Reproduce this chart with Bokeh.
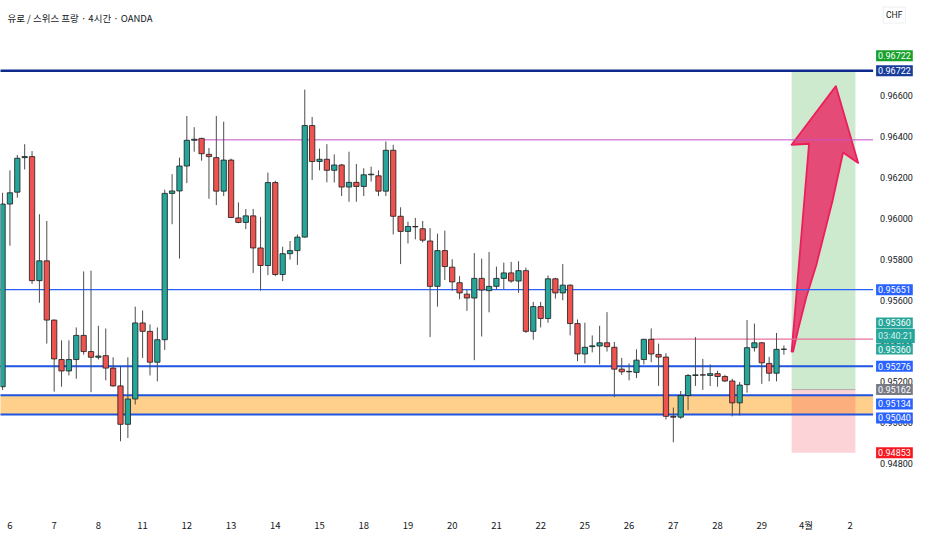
from bokeh.plotting import figure
from bokeh.models import Range1d, FixedTicker, Label, ColumnDataSource
from bokeh.embed import file_html
from bokeh.resources import INLINE
from bokeh.core.properties import value

# ---------------- data ----------------
title_text = "유로 / 스위스 프랑 · 4시간 · OANDA"

opens = [0.95176, 0.96070, 0.96128, 0.96297, 0.96302, 0.95695, 0.95792, 0.95502, 0.95309, 0.95253,
         0.95309, 0.95427, 0.95348, 0.95320, 0.95328, 0.95267, 0.95180, 0.94992, 0.95116, 0.95488,
         0.95447, 0.95296, 0.95406, 0.96122, 0.96134, 0.96256, 0.96382, 0.96391, 0.96313, 0.96297,
         0.96133, 0.96285, 0.96002, 0.95980, 0.96012, 0.95855, 0.95769, 0.96175, 0.95725, 0.95827,
         0.95842, 0.95908, 0.96454, 0.96278, 0.96289, 0.96235, 0.96261, 0.96153, 0.96176, 0.96156,
         0.96213, 0.96208, 0.96133, 0.96333, 0.96010, 0.95936, 0.95960, 0.95949, 0.95889, 0.95667,
         0.95842, 0.95761, 0.95685, 0.95629, 0.95610, 0.95706, 0.95646, 0.95667, 0.95706, 0.95733,
         0.95693, 0.95744, 0.95447, 0.95568, 0.95510, 0.95704, 0.95635, 0.95673, 0.95485, 0.95336,
         0.95372, 0.95375, 0.95391, 0.95369, 0.95262, 0.95249, 0.95246, 0.95309, 0.95408, 0.95334,
         0.95321, 0.95031, 0.95027, 0.95133, 0.95231, 0.95234, 0.95231, 0.95240, 0.95226, 0.95204,
         0.95097, 0.95186, 0.95367, 0.95391, 0.95290, 0.95242, 0.95359]
highs = [0.96125, 0.96235, 0.96310, 0.96363, 0.96329, 0.96020, 0.95987, 0.95505, 0.95403, 0.95403,
         0.95466, 0.95740, 0.95744, 0.95474, 0.95461, 0.95320, 0.95278, 0.95320, 0.95568, 0.95549,
         0.95481, 0.95466, 0.96140, 0.96216, 0.96297, 0.96501, 0.96446, 0.96394, 0.96344, 0.96501,
         0.96473, 0.96292, 0.96078, 0.96046, 0.96046, 0.96007, 0.96224, 0.96184, 0.95861, 0.95889,
         0.95921, 0.96630, 0.96496, 0.96341, 0.96363, 0.96313, 0.96266, 0.96326, 0.96266, 0.96245,
         0.96253, 0.96235, 0.96376, 0.96360, 0.96054, 0.95984, 0.96002, 0.95987, 0.95952, 0.95925,
         0.95940, 0.95800, 0.95717, 0.95651, 0.95830, 0.95803, 0.95835, 0.95764, 0.95783, 0.95787,
         0.95790, 0.95759, 0.95591, 0.95591, 0.95720, 0.95709, 0.95776, 0.95677, 0.95505, 0.95489,
         0.95427, 0.95474, 0.95541, 0.95395, 0.95317, 0.95290, 0.95359, 0.95410, 0.95461, 0.95387,
         0.95340, 0.95074, 0.95155, 0.95238, 0.95419, 0.95312, 0.95285, 0.95254, 0.95234, 0.95215,
         0.95199, 0.95502, 0.95485, 0.95395, 0.95322, 0.95439, 0.95378]
lows = [0.95160, 0.95866, 0.96101, 0.96239, 0.95679, 0.95587, 0.95387, 0.95152, 0.95176, 0.95231,
        0.95215, 0.95333, 0.95149, 0.95309, 0.95207, 0.95176, 0.94909, 0.94925, 0.95089, 0.95317,
        0.95231, 0.95202, 0.95356, 0.95971, 0.95803, 0.96172, 0.96326, 0.96282, 0.96096, 0.96065,
        0.96109, 0.96002, 0.95976, 0.95947, 0.95733, 0.95646, 0.95722, 0.95717, 0.95693, 0.95798,
        0.95772, 0.95905, 0.96187, 0.96235, 0.96176, 0.96175, 0.96109, 0.96081, 0.96081, 0.96109,
        0.96180, 0.96109, 0.96109, 0.95921, 0.95776, 0.95877, 0.95897, 0.95882, 0.95419, 0.95568,
        0.95698, 0.95646, 0.95604, 0.95547, 0.95306, 0.95422, 0.95540, 0.95651, 0.95654, 0.95685,
        0.95635, 0.95439, 0.95406, 0.95466, 0.95489, 0.95607, 0.95599, 0.95427, 0.95301, 0.95290,
        0.95344, 0.95285, 0.95348, 0.95125, 0.95234, 0.95207, 0.95218, 0.95285, 0.95296, 0.95180,
        0.95016, 0.94904, 0.95019, 0.95061, 0.95180, 0.95160, 0.95180, 0.95176, 0.95199, 0.95031,
        0.95035, 0.95147, 0.95348, 0.95190, 0.95202, 0.95202, 0.95333]
closes = [0.96070, 0.96125, 0.96294, 0.96302, 0.95695, 0.95792, 0.95502, 0.95312, 0.95253, 0.95309,
          0.95427, 0.95348, 0.95320, 0.95326, 0.95267, 0.95180, 0.94992, 0.95116, 0.95488, 0.95447,
          0.95296, 0.95406, 0.96122, 0.96134, 0.96256, 0.96382, 0.96387, 0.96316, 0.96302, 0.96133,
          0.96285, 0.96004, 0.95980, 0.96012, 0.95855, 0.95769, 0.96175, 0.95725, 0.95827, 0.95842,
          0.95908, 0.96454, 0.96278, 0.96289, 0.96235, 0.96261, 0.96153, 0.96176, 0.96156, 0.96213,
          0.96216, 0.96133, 0.96333, 0.96010, 0.95936, 0.95960, 0.95958, 0.95893, 0.95667, 0.95842,
          0.95764, 0.95689, 0.95635, 0.95610, 0.95706, 0.95649, 0.95667, 0.95706, 0.95733, 0.95693,
          0.95744, 0.95447, 0.95568, 0.95510, 0.95704, 0.95635, 0.95673, 0.95485, 0.95336, 0.95369,
          0.95376, 0.95391, 0.95372, 0.95262, 0.95249, 0.95251, 0.95306, 0.95408, 0.95336, 0.95321,
          0.95031, 0.95027, 0.95133, 0.95231, 0.95234, 0.95233, 0.95240, 0.95226, 0.95204, 0.95097,
          0.95184, 0.95367, 0.95391, 0.95293, 0.95242, 0.95359, 0.95360]

day_ticks = [1, 7, 13, 19, 25, 31, 37, 43, 49, 55, 61, 67, 73, 79, 85, 91, 97, 103, 109, 115]
day_labels = ["6", "7", "8", "11", "12", "13", "14", "15", "18", "19", "20", "21", "22",
              "25", "26", "27", "28", "29", "4월", "2"]
price_ticks = [0.948, 0.950, 0.952, 0.954, 0.956, 0.958, 0.960, 0.962, 0.964, 0.966]

# horizontal drawing levels
level_prices = [0.96722, 0.96384, 0.95651, 0.95409, 0.95276, 0.95134, 0.95040]
level_start = [-1, 26, -1, 88, -1, -1, -1]
level_colors = ["#0c2b8c", "#c84fc8", "#2962ff", "#e8729a", "#1f55e0", "#1f55e0", "#1f55e0"]
level_widths = [2.5, 1, 1.2, 1.2, 2, 2, 2]

zone_low, zone_high = 0.95040, 0.95134

# long position tool
pos_left, pos_right = 107.05, 115.7
pos_target, pos_entry, pos_stop = 0.96722, 0.95162, 0.94853

# arrow drawing (bar index, price)
arrow_x = [107.05, 109.41, 107.05, 113.05, 116.08, 114.03, 112.6, 110.4, 109.05, 107.95, 107.25]
arrow_y = [0.95348, 0.96365, 0.96360, 0.96647, 0.96271, 0.96322, 0.96086, 0.95772, 0.95615,
           0.95458, 0.95348]

# price-scale labels: text, price, background, offset(px), text colour
scale_labels = [
    ("0.96722", 0.96722, "#17a12b", 15.0, "white"),
    ("0.96722", 0.96722, "#173c9a", 0.0, "white"),
    ("0.95651", 0.95651, "#2962ff", 0.0, "white"),
    ("0.95360", 0.95360, "#26a69a", 26.2, "white"),
    ("03:40:21", 0.95360, "#26a69a", 13.1, "#d4f1ec"),
    ("0.95360", 0.95360, "#26a69a", 0.0, "white"),
    ("0.95276", 0.95276, "#2962ff", 0.0, "white"),
    ("0.95162", 0.95162, "#787b86", 0.0, "white"),
    ("0.95134", 0.95134, "#2962ff", -8.7, "white"),
    ("0.95040", 0.95040, "#2962ff", -3.4, "white"),
    ("0.94853", 0.94853, "#f7171f", 0.0, "white"),
]

# ---------------- figure ----------------
X0, X1 = -0.28, 123.99      # full width (chart pane + price scale)
XC = 118.1                  # right edge of the chart pane
Y0, Y1 = 0.946094, 0.970659

p = figure(width=916, height=534, output_backend="svg", toolbar_location=None,
           x_range=Range1d(X0, X1), y_range=Range1d(Y0, Y1), y_axis_location=None,
           min_border_left=0, min_border_right=0, min_border_top=0, min_border_bottom=27)
p.outline_line_color = None
p.grid.visible = False
p.background_fill_color = "white"
p.border_fill_color = "white"

xax = p.xaxis[0]
xax.ticker = FixedTicker(ticks=day_ticks)
xax.major_label_overrides = {t: l for t, l in zip(day_ticks, day_labels)}
xax.axis_line_color = None
xax.major_tick_line_color = None
xax.minor_tick_line_color = None
xax.major_label_text_font = "Noto Sans CJK KR"
xax.major_label_text_font_size = "9.5px"
xax.major_label_text_color = "#131722"
xax.major_label_standoff = 9

# price scale tick labels
p.text(x=[XC] * len(price_ticks), y=price_ticks, text=["%.5f" % t for t in price_ticks],
       x_offset=7, text_baseline="middle", text_align="left",
       text_font=value("Roboto"), text_font_size=value("9px"), text_color="#131722")

# zone
p.quad(left=[X0 - 1], right=[XC], bottom=[zone_low], top=[zone_high],
       fill_color="#ffd08c", line_color=None)

# position boxes
p.quad(left=[pos_left], right=[pos_right], bottom=[pos_entry], top=[pos_target],
       fill_color="#4caf50", fill_alpha=0.28, line_color=None)
p.quad(left=[pos_left], right=[pos_right], bottom=[pos_stop], top=[pos_entry],
       fill_color="#f23645", fill_alpha=0.22, line_color=None)
p.segment(x0=[pos_left], x1=[pos_right], y0=[pos_entry], y1=[pos_entry],
          line_color="#9a9a9a", line_width=1, line_alpha=0.7)

# arrow
p.patch(arrow_x, arrow_y, fill_color="#e83a6e", fill_alpha=0.9,
        line_color="#ec1f5c", line_width=1.8, line_join="round")

# levels
lsrc = ColumnDataSource(dict(x0=level_start, x1=[XC] * len(level_prices), y=level_prices,
                             c=level_colors, w=level_widths))
p.segment(x0="x0", x1="x1", y0="y", y1="y", line_color="c", line_width="w", source=lsrc)

# candles
idx = list(range(len(opens)))
up = [c >= o for o, c in zip(opens, closes)]
csrc = ColumnDataSource(dict(
    x=idx, h=highs, l=lows,
    top=[max(o, c) for o, c in zip(opens, closes)],
    bot=[min(o, c) for o, c in zip(opens, closes)],
    col=["#26a69a" if u else "#ef5350" for u in up],
))
p.segment(x0="x", x1="x", y0="h", y1="l", line_color="#4d4d4d", line_width=1, source=csrc)
p.vbar(x="x", width=0.72, top="top", bottom="bot", fill_color="col",
       line_color="#1c1c1c", line_width=0.8, source=csrc)

# title
p.add_layout(Label(x=X0, y=Y1, x_offset=7, y_offset=-17.5, text=title_text,
                   text_font="Noto Sans CJK KR", text_font_size="9.5px",
                   text_color="#131722", text_baseline="middle", text_align="left"))
p.add_layout(Label(x=XC, y=Y1, x_offset=10, y_offset=-14.6, text="CHF",
                   text_font="Roboto", text_font_size="8.5px",
                   text_color="#131722", text_baseline="middle", text_align="left",
                   border_line_color="#eceef2", padding=3))

# price scale labels
for txt, pr, bg, off, tc in scale_labels:
    p.add_layout(Label(x=XC, y=pr, x_offset=3, y_offset=off, text=txt,
                       text_font="Roboto", text_font_size="9px", text_color=tc,
                       text_baseline="middle", text_align="left",
                       background_fill_color=bg, padding=2))

open("out.html", "w").write(file_html(p, INLINE))
